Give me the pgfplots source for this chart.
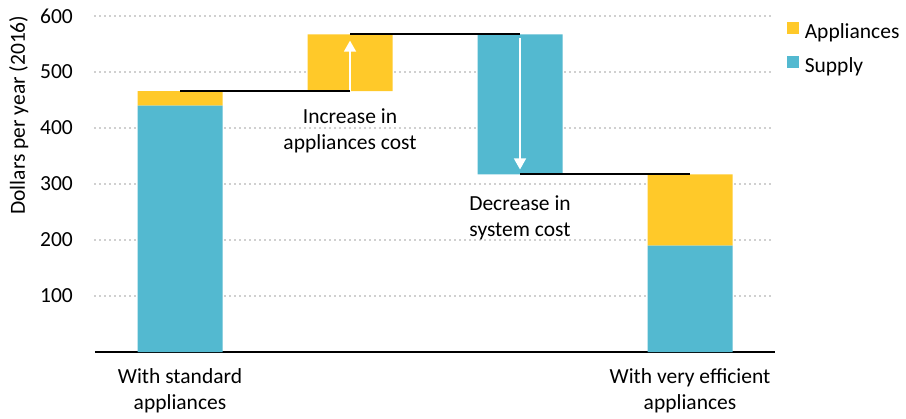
\documentclass[border=0pt]{standalone}
\usepackage{pgfplots}
\pgfplotsset{compat=1.18}
\usepackage{pgfplotstable}
\usepackage{fontspec}
\setmainfont{Carlito}
\usetikzlibrary{arrows.meta}

\definecolor{appl}{HTML}{FFC929}
\definecolor{supp}{HTML}{53B9D0}
\definecolor{gridgray}{HTML}{A0A0A0}

% Waterfall: invisible base, then supply and appliances stacked on top
\pgfplotstableread{
x    base  supply  appliances
0.5  0     440     26
1.5  466   0       101
2.5  317   250     0
3.5  0     190     127
}\costs

\begin{document}
\fontsize{21.5}{26}\selectfont
\begin{tikzpicture}
\begin{axis}[
  name=bars,
  scale only axis, width=680pt, height=336pt,
  xmin=0, xmax=4, ymin=0, ymax=600,
  ybar stacked, bar width=85pt,
  axis x line*=bottom, axis y line*=left,
  x axis line style={-, line width=1.6pt, black},
  y axis line style={draw=none},
  xtick={0.5,3.5},
  xticklabels={With standard\\appliances, With very efficient\\appliances},
  xticklabel style={align=center, inner sep=0pt, yshift=-16pt},
  ytick={100,200,...,600},
  yticklabel style={inner sep=0pt, xshift=-22pt},
  /pgf/number format/assume math mode=true,
  major tick length=0pt,
  ymajorgrids,
  major grid style={gridgray, line width=1.8pt, dash pattern=on 0pt off 5pt, line cap=round},
  ylabel={Dollars per year (2016)},
  ylabel style={at={(rel axis cs:-0.112,0.705)}, anchor=center},
  reverse legend,
  legend style={at={(rel axis cs:1.017,0.985)}, anchor=north west,
    draw=none, fill=none, inner sep=0pt, row sep=12pt,
    cells={anchor=west},
    /tikz/every odd column/.append style={column sep=4pt}},
]
\addplot[fill=none, draw=none, forget plot] table[x=x, y=base] {\costs};
\addplot[fill=supp, draw=none,
  legend image code/.code={\fill[supp] (0pt,-2pt) rectangle (12pt,10pt);}]
  table[x=x, y=supply] {\costs};
\addlegendentry{Supply}
\addplot[fill=appl, draw=none,
  legend image code/.code={\fill[appl] (0pt,-2pt) rectangle (12pt,10pt);}]
  table[x=x, y=appliances] {\costs};
\addlegendentry{Appliances}
\end{axis}

% Connectors, arrows and annotations on an identical overlay axis
\begin{axis}[
  at={(bars.south west)}, anchor=south west,
  scale only axis, width=680pt, height=336pt,
  xmin=0, xmax=4, ymin=0, ymax=600,
  hide axis, clip=false,
]
\addplot[white, line width=1.6pt, -{Triangle[length=11pt, width=12pt]}]
  coordinates {(1.5,466) (1.5,556)};
\addplot[white, line width=1.6pt, -{Triangle[length=11pt, width=12pt]}]
  coordinates {(2.5,560) (2.5,326)};
\addplot[black, line width=2pt] coordinates {(0.5,466) (1.5,466)};
\addplot[black, line width=2pt] coordinates {(1.5,567) (2.5,567)};
\addplot[black, line width=2pt] coordinates {(2.5,317) (3.5,317)};
\node[align=center] at (axis cs:1.5,395) {Increase in\\appliances cost};
\node[align=center] at (axis cs:2.5,239) {Decrease in\\system cost};
\end{axis}

\pgfresetboundingbox
\path[use as bounding box] ([xshift=-95pt,yshift=-66pt]bars.south west)
  rectangle ([xshift=131pt,yshift=16pt]bars.north east);
\end{tikzpicture}
\end{document}
